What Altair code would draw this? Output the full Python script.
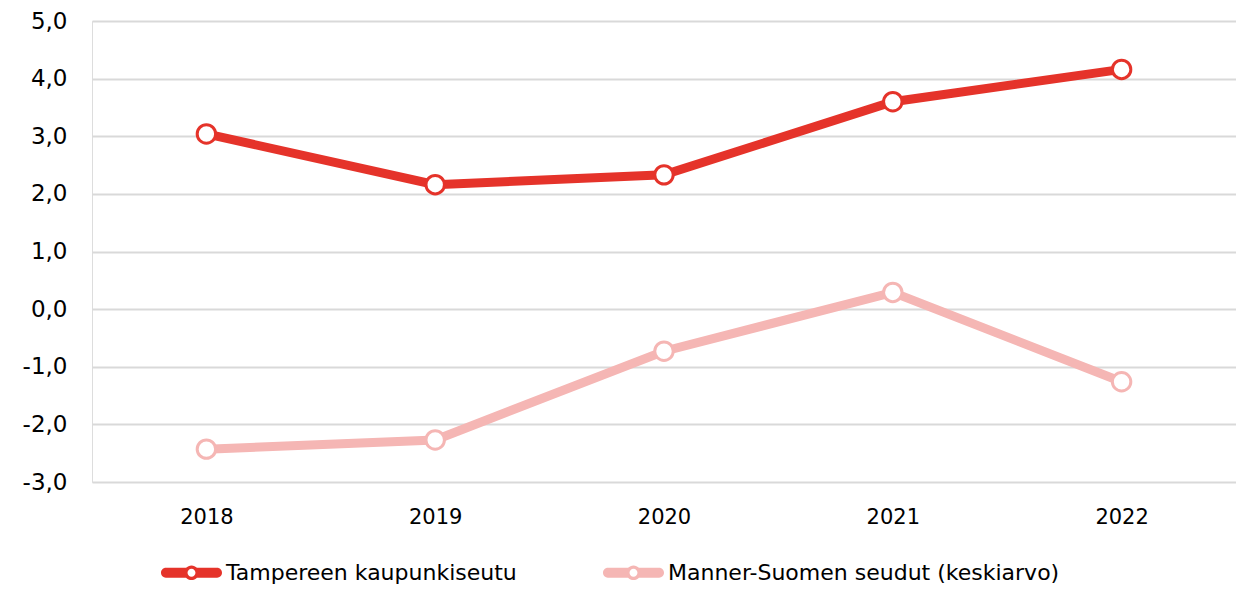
import altair as alt
import pandas as pd

years = ["2018", "2019", "2020", "2021", "2022"]
series_names = ["Tampereen kaupunkiseutu", "Manner-Suomen seudut (keskiarvo)"]
tampere = [3.04, 2.16, 2.33, 3.60, 4.16]
manner = [-2.43, -2.27, -0.73, 0.29, -1.26]
colors = ["#E5332A", "#F5B6B4"]
y_ticks = [-3, -2, -1, 0, 1, 2, 3, 4, 5]

rows = []
for name, vals in zip(series_names, [tampere, manner]):
    for y, v in zip(years, vals):
        rows.append({"year": y, "value": v, "series": name})
df = pd.DataFrame(rows)

# legend symbol: rounded bar with a ring (hole in the middle)
h, R, r = 0.16, 0.24, 0.13
xc = (R * R - h * h) ** 0.5
sym = (
    f"M {-1+h} {-h} L {-xc} {-h} A {R} {R} 0 0 1 {xc} {-h} L {1-h} {-h} "
    f"A {h} {h} 0 0 1 {1-h} {h} L {xc} {h} A {R} {R} 0 0 1 {-xc} {h} "
    f"L {-1+h} {h} A {h} {h} 0 0 1 {-1+h} {-h} Z "
    f"M {r} 0 A {r} {r} 0 1 0 {-r} 0 A {r} {r} 0 1 0 {r} 0 Z"
)

color_scale = alt.Scale(domain=series_names, range=colors)
x_enc = alt.X(
    "year:N",
    sort=years,
    scale=alt.Scale(type="point", padding=0.5),
    axis=alt.Axis(
        title=None, labelAngle=0, ticks=False, domain=False, grid=False,
        labelFont="DejaVu Sans", labelFontSize=21, labelColor="#000000",
        labelPadding=24,
    ),
)
y_enc = alt.Y(
    "value:Q",
    scale=alt.Scale(domain=[-3, 5], nice=False, zero=False),
    axis=alt.Axis(
        title=None, values=y_ticks, ticks=False, domain=False,
        gridColor="#D9D9D9", gridWidth=2,
        labelFont="DejaVu Sans", labelFontSize=23, labelColor="#000000",
        labelPadding=25,
        labelExpr="replace(replace(format(datum.value, '.1f'), '.', ','), '\u2212', '-')",
    ),
)

base = alt.Chart(df)

legend_layer = base.mark_point(filled=True, size=0, opacity=0).encode(
    x=x_enc, y=y_enc,
    color=alt.Color(
        "series:N", scale=color_scale,
        legend=alt.Legend(
            title=None, orient="none", direction="horizontal",
            legendX=69, legendY=521, padding=0,
            symbolType=sym, symbolSize=3721, symbolStrokeWidth=0,
            symbolOpacity=1, labelOffset=4, columnPadding=86,
            labelFont="DejaVu Sans", labelFontSize=22, labelColor="#000000",
            labelLimit=600,
        ),
    ),
)

lines = base.mark_line(strokeWidth=9).encode(
    x=x_enc, y=y_enc,
    color=alt.Color("series:N", scale=color_scale, legend=None),
    detail="series:N",
)

points = base.mark_point(
    shape="circle", size=340, filled=False, fill="white", strokeWidth=3, opacity=1
).encode(
    x=x_enc, y=y_enc,
    color=alt.Color("series:N", scale=color_scale, legend=None),
)

chart = (
    alt.layer(legend_layer, lines, points)
    .properties(
        width=1144, height=461, autosize="none",
        padding={"left": 84, "top": 13, "right": 0, "bottom": 105},
    )
    .configure_view(stroke=None)
    .configure(background="white")
)

chart.save("out.html", embed_options={"renderer": "svg", "actions": False})
